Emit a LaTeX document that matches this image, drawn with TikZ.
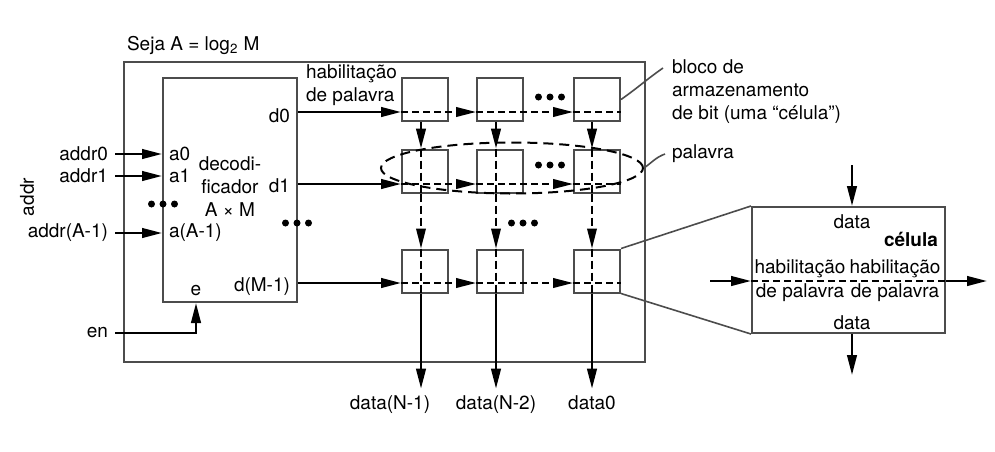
\documentclass[tikz,border=0pt]{standalone}
\usepackage{fontspec}
\setmainfont{TeX Gyre Heros}
\usetikzlibrary{calc,arrows.meta,shapes.geometric}

\tikzset{
	frame/.style={draw=black!70, line width=1pt},
	cell/.style={draw=black!70, line width=1pt, minimum width=23pt, minimum height=21.5pt, inner sep=0pt},
	sigarrow/.style={line width=1.2pt, -{Triangle[length=10pt,width=4.8pt]}},
	wline/.style={line width=1pt, dash pattern=on 3.5pt off 2pt},
	bline/.style={line width=0.8pt, dash pattern=on 4pt off 2pt},
	leader/.style={draw=black!70, line width=0.8pt},
	outlabel/.style={text height=7pt, text depth=2.3pt},
	pics/tridots/.style={code={
		\fill (-11.5,0) circle[radius=1.75pt];
		\fill (0,0) circle[radius=1.75pt];
		\fill (11.5,0) circle[radius=1.75pt];
	}},
}

\begin{document}
\begin{tikzpicture}[x=0.5pt, y=-0.5pt, font=\fontsize{9.5}{11.5}\selectfont]
	\useasboundingbox (0,0) rectangle (995,451);
	
	% Outer memory box
	\coordinate (M1) at (124,62);
	\coordinate (M2) at (645,362);
	\draw[frame] (M1) rectangle (M2);
	\node[anchor=west] (title) at (120,45) {Seja A = log\textsubscript{2} M};
	
	% Decoder
	\node[frame, minimum width=67pt, minimum height=112pt, inner sep=0pt] (dec) at (230,190) {};
	\node[align=center] (dectxt) at (230,187) {decodi-\\ficador\\A × M};
	
	% Address inputs
	\node[anchor=east] (addr0) at (115,154) {addr0};
	\node[anchor=east] (addr1) at (115,176) {addr1};
	\node[anchor=east] (addrA) at (115,233) {addr(A-1)};
	\node[rotate=90] (addr) at (27,197) {addr};
	\draw[sigarrow] (addr0.east) -- (addr0.east -| dec.west);
	\draw[sigarrow] (addr1.east) -- (addr1.east -| dec.west);
	\draw[sigarrow] (addrA.east) -- (addrA.east -| dec.west);
	\node[anchor=west] (a0) at (addr0.east -| dec.west) {a0};
	\node[anchor=west] (a1) at (addr1.east -| dec.west) {a1};
	\node[anchor=west] (aA) at (addrA.east -| dec.west) {a(A-1)};
	\pic at (163,204) {tridots};
	
	% Enable
	\node[anchor=east] (en) at (115,333) {en};
	\coordinate (ept) at ($ (dec.south west)+(34,0) $);
	\node[above] (e) at (ept) {e};
	\draw[sigarrow] (en.east) -| (ept);
	
	% Decoder outputs
	\node[anchor=east] (d0) at (297,116) {d0};
	\node[anchor=east] (d1) at (297,186) {d1};
	\node[anchor=east] (dM) at (297,287) {d(M-1)};
	\pic at (297,223) {tridots};
	\node[anchor=west, align=left] (hab) at (299,85) {habilitação\\de palavra};
	
	% Word lines and bit lines
	\coordinate (w0) at (0,112);
	\coordinate (w1) at (0,184);
	\coordinate (w2) at (0,283);
	\coordinate (b0) at (421,0);
	\coordinate (b1) at (496,0);
	\coordinate (b2) at (592,0);
	
	% Cells
	\node[cell] (c00) at (425,99.5) {};
	\node[cell] (c01) at (500,99.5) {};
	\node[cell] (c02) at (597,99.5) {};
	\node[cell] (c10) at (425,171) {};
	\node[cell] (c11) at (500,171) {};
	\node[cell] (c12) at (597,171) {};
	\node[cell] (c20) at (425,271) {};
	\node[cell] (c21) at (500,271) {};
	\node[cell] (c22) at (597,271) {};
	\pic at (550,97) {tridots};
	\pic at (550,165) {tridots};
	\pic at (523,223) {tridots};
	
	% Word line d0
	\draw[sigarrow] (dec.east |- w0) -- (c00.west |- w0);
	\draw[sigarrow, wline] (c00.west |- w0) -- (c01.west |- w0);
	\draw[sigarrow, wline] (c01.west |- w0) -- (c02.west |- w0);
	\draw[wline] (c02.west |- w0) -- (c02.east |- w0);
	
	% Word line d1
	\draw[sigarrow] (dec.east |- w1) -- (c10.west |- w1);
	\draw[sigarrow, wline] (c10.west |- w1) -- (c11.west |- w1);
	\draw[sigarrow, wline] (c11.west |- w1) -- (c12.west |- w1);
	\draw[wline] (c12.west |- w1) -- (c12.east |- w1);
	
	% Word line d(M-1)
	\draw[sigarrow] (dec.east |- w2) -- (c20.west |- w2);
	\draw[sigarrow, wline] (c20.west |- w2) -- (c21.west |- w2);
	\draw[sigarrow, wline] (c21.west |- w2) -- (c22.west |- w2);
	\draw[wline] (c22.west |- w2) -- (c22.east |- w2);
	
	% Data outputs
	\node[outlabel] (dataN1) at (390,405) {data(N-1)};
	\node[outlabel] (dataN2) at (496,405) {data(N-2)};
	\node[outlabel] (data0) at (592,405) {data0};
	
	% Bit line N-1
	\draw[sigarrow] (c00.south -| b0) -- (c10.north -| b0);
	\draw[bline] (c10.north -| b0) -- (c10.south -| b0);
	\draw[sigarrow, bline] (c10.south -| b0) -- (c20.north -| b0);
	\draw[bline] (c20.north -| b0) -- (c20.south -| b0);
	\draw[sigarrow] (c20.south -| b0) -- (b0 |- dataN1.north);
	
	% Bit line N-2
	\draw[sigarrow] (c01.south -| b1) -- (c11.north -| b1);
	\draw[bline] (c11.north -| b1) -- (c11.south -| b1);
	\draw[sigarrow, bline] (c11.south -| b1) -- (c21.north -| b1);
	\draw[bline] (c21.north -| b1) -- (c21.south -| b1);
	\draw[sigarrow] (c21.south -| b1) -- (b1 |- dataN2.north);
	
	% Bit line 0
	\draw[sigarrow] (c02.south -| b2) -- (c12.north -| b2);
	\draw[bline] (c12.north -| b2) -- (c12.south -| b2);
	\draw[sigarrow, bline] (c12.south -| b2) -- (c22.north -| b2);
	\draw[bline] (c22.north -| b2) -- (c22.south -| b2);
	\draw[sigarrow] (c22.south -| b2) -- (b2 |- data0.north);
	
	% Word (dashed ellipse)
	\node[draw, ellipse, line width=1pt, dash pattern=on 5pt off 3pt, minimum width=131pt, minimum height=25.5pt, inner sep=0pt] (word) at (512,168) {};
	
	% Labels on the right
	\node[anchor=west, align=left] (blk) at (665,92) {bloco de\\armazenamento\\de bit (uma “célula”)};
	\coordinate (blkend) at (663,68);
	\draw[leader] (c02.east) to[out=35, in=215] (blkend);
	\node[anchor=west] (pal) at (665,154) {palavra};
	\draw[leader] (word.east) to[out=35, in=200] (pal.west);
	
	% Enlarged cell
	\node[frame, minimum width=96.5pt, minimum height=63pt, inner sep=0pt] (cellz) at (848.5,270) {};
	\draw[leader] (c22.north east) -- (cellz.north west);
	\draw[leader] (c22.south east) -- (cellz.south west);
	\node (ztop) at (852,222) {data};
	\node[anchor=east] (zname) at (945,239) {\textbf{célula}};
	\node (zh1) at (800,269) {habilitação};
	\node (zh2) at (895,269) {habilitação};
	\node (zp1) at (800,293) {de palavra};
	\node (zp2) at (895,293) {de palavra};
	\node (zbot) at (852,323) {data};
	
	\coordinate (zin) at (852,165);
	\coordinate (zout) at (852,375);
	\coordinate (zl) at (710,281);
	\coordinate (zr) at (987,281);
	\draw[sigarrow] (zin) -- (zin |- cellz.north);
	\draw[sigarrow] (zout |- cellz.south) -- (zout);
	\draw[sigarrow] (zl) -- (zl -| cellz.west);
	\draw[sigarrow] (zr -| cellz.east) -- (zr);
	\draw[wline] (zl -| cellz.west) -- (zr -| cellz.east);
	
\end{tikzpicture}
\end{document}
